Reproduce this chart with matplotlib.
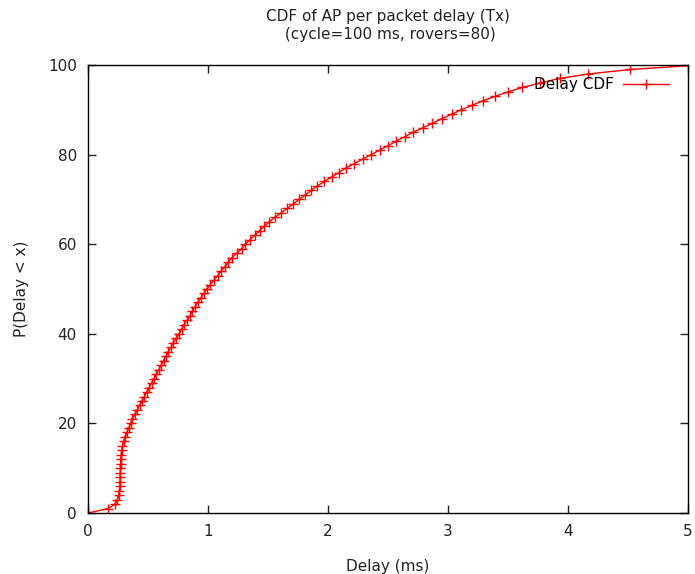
import matplotlib
matplotlib.use("Agg")
import matplotlib.pyplot as plt

# CDF percent levels and the delay (ms) read at each level
pct = list(range(0, 101))
delay = [
    0.0, 0.17, 0.225, 0.245, 0.255, 0.262, 0.265, 0.267, 0.268, 0.27,
    0.27, 0.271, 0.273, 0.276, 0.28, 0.287, 0.297, 0.31, 0.325, 0.34,
    0.355, 0.37, 0.39, 0.41, 0.43, 0.45, 0.47, 0.49, 0.51, 0.53,
    0.55, 0.57, 0.59, 0.61, 0.63, 0.65, 0.67, 0.69, 0.71, 0.735,
    0.76, 0.78, 0.80, 0.825, 0.85, 0.87, 0.89, 0.915, 0.94, 0.965,
    0.99, 1.02, 1.05, 1.08, 1.11, 1.14, 1.17, 1.20, 1.24, 1.28,
    1.31, 1.35, 1.39, 1.43, 1.47, 1.51, 1.56, 1.61, 1.66, 1.71,
    1.76, 1.81, 1.86, 1.91, 1.97, 2.03, 2.09, 2.15, 2.22, 2.29,
    2.36, 2.43, 2.50, 2.57, 2.64, 2.71, 2.79, 2.87, 2.95, 3.03,
    3.11, 3.20, 3.29, 3.39, 3.50, 3.62, 3.77, 3.93, 4.17, 4.52,
    5.1,
]

plt.rcParams['font.family'] = 'DejaVu Sans'
plt.rcParams['font.size'] = 11

fig = plt.figure(figsize=(6.95, 5.74), dpi=100)
ax = fig.add_axes([88 / 695, 61 / 574, 600 / 695, 448 / 574])

ax.plot(delay, pct, color='#ff0000', lw=1.0, marker='+', ms=7, mew=1.0,
        label='Delay CDF')

ax.set_xlim(0, 5)
ax.set_ylim(0, 100)
ax.set_xticks(range(0, 6))
ax.set_yticks(range(0, 101, 20))
ax.tick_params(direction='in', length=6, width=1, top=True, right=True,
               labelsize=11, colors='#222222', pad=8)
for s in ax.spines.values():
    s.set_linewidth(1.0)

ax.set_xlabel('Delay (ms)', fontsize=11, color='#222222', labelpad=14)
ax.set_ylabel('P(Delay < x)', fontsize=11, color='#222222', labelpad=14)
ax.set_title('CDF of AP per packet delay (Tx)\n (cycle=100 ms, rovers=80)',
             fontsize=11, color='#222222', pad=19)

ax.legend(loc='upper right', bbox_to_anchor=(0.988, 1.0), frameon=False,
          markerfirst=False, handlelength=3.0, handletextpad=0.6,
          borderaxespad=0.3, borderpad=0.5, fontsize=11)

fig.savefig('out.png', dpi=100)
